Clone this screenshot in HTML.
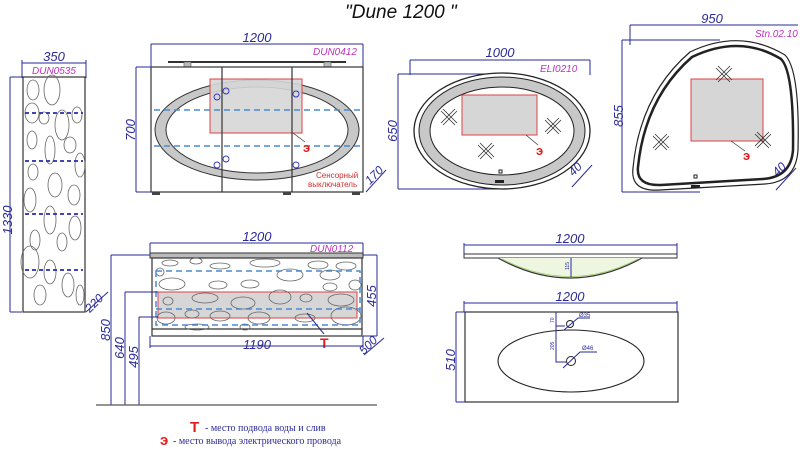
<!DOCTYPE html>
<html><head><meta charset="utf-8"><style>
html,body{margin:0;padding:0;background:#fff;width:800px;height:449px;overflow:hidden}
svg{display:block}
.d{stroke:#2a2a9a;stroke-width:1;fill:none}
.k{stroke:#333;stroke-width:1.2;fill:none}
.t{font-family:"Liberation Sans",sans-serif;font-style:italic;fill:#2a2a9a}
.m{font-family:"Liberation Sans",sans-serif;font-style:italic;fill:#c030c0;font-size:10px}
.o{stroke:#666;stroke-width:0.8;fill:none}
.bd{stroke:#4a8ad0;stroke-width:1.5;stroke-dasharray:6 4;fill:none}
.pd{stroke:#2a2ab0;stroke-width:1.8;stroke-dasharray:4 3;fill:none}
.x{stroke:#333;stroke-width:0.8}
.r{font-family:"Liberation Sans",sans-serif;font-weight:bold;fill:#e02020}
</style></head><body>
<svg width="800" height="449" viewBox="0 0 800 449" xmlns="http://www.w3.org/2000/svg">
<text x="345" y="18" font-family="Liberation Sans,sans-serif" font-style="italic" font-size="19" fill="#111">"Dune 1200 "</text>

<!-- Pencil case -->
<line class="d" x1="22" y1="63" x2="86" y2="63"/><line class="d" x1="22" y1="60" x2="22" y2="78"/><line class="d" x1="86" y1="60" x2="86" y2="78"/>
<text class="t" x="54" y="61" font-size="13" text-anchor="middle">350</text>
<text class="m" x="32" y="74">DUN0535</text>
<line class="d" x1="10" y1="77" x2="22" y2="77"/><line class="d" x1="10" y1="77" x2="10" y2="312"/><line class="d" x1="10" y1="312" x2="22" y2="312"/>
<text class="t" font-size="13" transform="translate(12,220) rotate(-90)" text-anchor="middle">1330</text>
<rect x="23" y="77" width="62" height="235" class="k"/>
<g class="o">
<ellipse cx="33" cy="90" rx="6" ry="10"/><ellipse cx="52" cy="90" rx="8" ry="15"/><ellipse cx="77" cy="115" rx="5" ry="8"/>
<ellipse cx="32" cy="113" rx="7" ry="10"/><ellipse cx="44" cy="118" rx="5" ry="6"/><ellipse cx="62" cy="125" rx="7" ry="15"/>
<ellipse cx="32" cy="140" rx="5" ry="9"/><ellipse cx="50" cy="150" rx="5" ry="14"/><ellipse cx="70" cy="145" rx="6" ry="8"/>
<ellipse cx="80" cy="165" rx="5" ry="12"/><ellipse cx="33" cy="172" rx="5" ry="8"/><ellipse cx="55" cy="185" rx="7" ry="12"/>
<ellipse cx="74" cy="195" rx="6" ry="10"/><ellipse cx="30" cy="200" rx="6" ry="12"/><ellipse cx="50" cy="220" rx="6" ry="14"/>
<ellipse cx="75" cy="228" rx="6" ry="12"/><ellipse cx="35" cy="240" rx="5" ry="10"/><ellipse cx="62" cy="242" rx="5" ry="9"/>
<ellipse cx="30" cy="262" rx="9" ry="16"/><ellipse cx="50" cy="272" rx="6" ry="12"/><ellipse cx="68" cy="285" rx="6" ry="12"/>
<ellipse cx="40" cy="295" rx="6" ry="10"/><ellipse cx="80" cy="295" rx="4" ry="10"/>
</g>
<line class="pd" x1="25" y1="113" x2="83" y2="113"/><line class="pd" x1="25" y1="161" x2="83" y2="161"/>
<line class="pd" x1="25" y1="214" x2="83" y2="214"/><line class="pd" x1="25" y1="270" x2="83" y2="270"/>
<text class="t" font-size="12" transform="translate(97,306) rotate(-45)" text-anchor="middle">220</text>
<line class="d" x1="86" y1="312" x2="108" y2="292"/>

<!-- Mirror cabinet -->
<line class="d" x1="151" y1="44" x2="363" y2="44"/><line class="d" x1="151" y1="44" x2="151" y2="67"/><line class="d" x1="363" y1="44" x2="363" y2="67"/>
<text class="t" x="257" y="42" font-size="13" text-anchor="middle">1200</text>
<text class="m" x="313" y="55">DUN0412</text>
<line x1="168" y1="62" x2="346" y2="62" stroke="#333" stroke-width="2"/>
<rect x="184" y="62" width="7" height="5" fill="#bbb" stroke="#555" stroke-width="0.6"/><rect x="324" y="62" width="7" height="5" fill="#bbb" stroke="#555" stroke-width="0.6"/>
<rect x="151" y="67" width="212" height="125" class="k"/>
<ellipse cx="257" cy="130" rx="102" ry="50" fill="#c8c8c8" stroke="#333" stroke-width="1"/>
<ellipse cx="257" cy="130" rx="91" ry="43" fill="#fff" stroke="#333" stroke-width="1"/>
<rect x="210" y="79" width="92" height="54" fill="#d6d6d6" fill-opacity="0.9" stroke="#e04040" stroke-width="1"/>
<line class="k" x1="222" y1="67" x2="222" y2="192"/><line class="k" x1="292" y1="67" x2="292" y2="192"/>
<line class="bd" x1="154" y1="110" x2="360" y2="110"/><line class="bd" x1="154" y1="146" x2="360" y2="146"/>
<g stroke="#3030c0" fill="none" stroke-width="0.9"><circle cx="217" cy="97" r="3"/><circle cx="226" cy="91" r="3"/><circle cx="296" cy="94" r="3"/>
<circle cx="217" cy="165" r="3"/><circle cx="226" cy="159" r="3"/><circle cx="296" cy="165" r="3"/></g>
<rect x="152" y="192" width="8" height="3" fill="#444"/><rect x="283" y="192" width="8" height="3" fill="#444"/><rect x="352" y="192" width="8" height="3" fill="#444"/>
<line x1="293" y1="133" x2="305" y2="142" stroke="#333" stroke-width="0.7"/>
<text class="r" x="303" y="152" font-size="13">э</text>
<text x="316" y="178" font-family="Liberation Sans,sans-serif" font-size="8" fill="#d03030">Сенсорный</text>
<text x="308" y="187" font-family="Liberation Sans,sans-serif" font-size="8" fill="#d03030">выключатель</text>
<line class="d" x1="136" y1="67" x2="151" y2="67"/><line class="d" x1="136" y1="67" x2="136" y2="192"/><line class="d" x1="136" y1="192" x2="151" y2="192"/>
<text class="t" font-size="13" transform="translate(135,130) rotate(-90)" text-anchor="middle">700</text>
<text class="t" font-size="12" transform="translate(377,178) rotate(-45)" text-anchor="middle">170</text>
<line class="d" x1="366" y1="192" x2="386" y2="170"/>

<!-- Ellipse mirror -->
<line class="d" x1="410" y1="60" x2="590" y2="60"/><line class="d" x1="410" y1="60" x2="410" y2="75"/><line class="d" x1="590" y1="60" x2="590" y2="75"/>
<text class="t" x="500" y="57" font-size="13" text-anchor="middle">1000</text>
<text class="m" x="540" y="72">ELI0210</text>
<line class="d" x1="398" y1="74" x2="500" y2="74"/><line class="d" x1="398" y1="74" x2="398" y2="189"/><line class="d" x1="398" y1="189" x2="500" y2="189"/>
<text class="t" font-size="13" transform="translate(397,131) rotate(-90)" text-anchor="middle">650</text>
<ellipse cx="502" cy="131" rx="88" ry="58" fill="#fff" stroke="#222" stroke-width="1.3"/>
<ellipse cx="502" cy="131" rx="83" ry="54" fill="#c8c8c8" stroke="#222" stroke-width="1"/>
<ellipse cx="502" cy="131" rx="72" ry="44" fill="#fff" stroke="#222" stroke-width="1"/>
<rect x="462" y="95" width="75" height="40" fill="#d6d6d6" stroke="#e04040" stroke-width="1"/>
<g class="x"><path d="M441 111 L455 125 M443 109 L457 123 M441 123 L455 109 M443 125 L457 111"/>
<path d="M478 145 L492 159 M480 143 L494 157 M478 157 L492 143 M480 159 L494 145"/>
<path d="M545 120 L559 134 M547 118 L561 132 M545 132 L559 118 M547 134 L561 120"/></g>
<line x1="526" y1="135" x2="538" y2="145" stroke="#333" stroke-width="0.7"/>
<text class="r" x="536" y="155" font-size="13">э</text>
<rect x="499" y="170" width="3" height="3" fill="none" stroke="#222"/><rect x="495" y="180" width="9" height="3" fill="#222"/>
<text class="t" font-size="12" transform="translate(578,172) rotate(-45)" text-anchor="middle">40</text>
<line class="d" x1="572" y1="187" x2="592" y2="165"/>

<!-- Triangle mirror -->
<line class="d" x1="630" y1="25" x2="798" y2="25"/><line class="d" x1="630" y1="25" x2="630" y2="45"/>
<text class="t" x="712" y="23" font-size="13" text-anchor="middle">950</text>
<text class="m" x="755" y="37">Stn.02.10</text>
<line class="d" x1="622" y1="40" x2="720" y2="40"/><line class="d" x1="622" y1="40" x2="622" y2="192"/><line class="d" x1="622" y1="192" x2="700" y2="192"/>
<text class="t" font-size="13" transform="translate(623,116) rotate(-90)" text-anchor="middle">855</text>
<path d="M690 52 Q740 28 785 55 Q800 70 798 150 Q796 182 765 184 L660 190 Q630 192 633 168 Q640 95 690 52 Z" fill="#fff" stroke="#222" stroke-width="1.2"/>
<path d="M692 57 Q740 34 781 59 Q794 72 793 150 Q791 177 763 179 L661 185 Q636 186 638 167 Q645 98 692 57 Z" fill="none" stroke="#222" stroke-width="2.5"/>
<rect x="691" y="79" width="72" height="62" fill="#d6d6d6" stroke="#e04040" stroke-width="1"/>
<g class="x"><path d="M716 68 L730 82 M718 66 L732 80 M716 80 L730 66 M718 82 L732 68"/>
<path d="M653 136 L667 150 M655 134 L669 148 M653 148 L667 134 M655 150 L669 136"/>
<path d="M755 134 L769 148 M757 132 L771 146 M755 146 L769 132 M757 148 L771 134"/></g>
<line x1="731" y1="141" x2="745" y2="151" stroke="#333" stroke-width="0.7"/>
<text class="r" x="743" y="160" font-size="13">э</text>
<rect x="694" y="175" width="3" height="3" fill="none" stroke="#222"/><rect x="691" y="185" width="9" height="3" fill="#222"/>
<text class="t" font-size="12" transform="translate(782,172) rotate(-45)" text-anchor="middle">40</text>
<line class="d" x1="776" y1="190" x2="796" y2="168"/>

<!-- Vanity -->
<line class="d" x1="150" y1="243" x2="363" y2="243"/><line class="d" x1="150" y1="243" x2="150" y2="257"/><line class="d" x1="363" y1="243" x2="363" y2="257"/>
<text class="t" x="257" y="241" font-size="13" text-anchor="middle">1200</text>
<text class="m" x="310" y="252">DUN0112</text>
<rect x="150" y="253" width="213" height="5" fill="#bbb" stroke="#333" stroke-width="1"/>
<rect x="152" y="258" width="210" height="78" class="k"/>
<line class="k" x1="152" y1="329" x2="362" y2="329"/>
<rect x="158" y="292" width="199" height="26" fill="#d6d6d6" stroke="#e04040" stroke-width="1"/>
<g class="o">
<ellipse cx="170" cy="263" rx="8" ry="3"/><ellipse cx="196" cy="261" rx="6" ry="3"/><ellipse cx="220" cy="266" rx="10" ry="3"/><ellipse cx="265" cy="263" rx="15" ry="4"/><ellipse cx="318" cy="265" rx="10" ry="4"/><ellipse cx="346" cy="266" rx="10" ry="4"/>
<ellipse cx="160" cy="272" rx="4" ry="4"/><ellipse cx="172" cy="284" rx="13" ry="6"/><ellipse cx="218" cy="285" rx="9" ry="4"/><ellipse cx="250" cy="284" rx="9" ry="4"/><ellipse cx="290" cy="275" rx="13" ry="6"/><ellipse cx="330" cy="275" rx="10" ry="5"/><ellipse cx="330" cy="287" rx="7" ry="4"/><ellipse cx="355" cy="285" rx="6" ry="5"/>
<ellipse cx="168" cy="301" rx="5" ry="4"/><ellipse cx="205" cy="298" rx="13" ry="5"/><ellipse cx="243" cy="303" rx="12" ry="6"/><ellipse cx="280" cy="297" rx="11" ry="7"/><ellipse cx="306" cy="298" rx="6" ry="4"/><ellipse cx="341" cy="300" rx="13" ry="6"/>
<ellipse cx="166" cy="318" rx="9" ry="6"/><ellipse cx="192" cy="314" rx="7" ry="4"/><ellipse cx="220" cy="316" rx="10" ry="5"/><ellipse cx="259" cy="318" rx="11" ry="6"/><ellipse cx="305" cy="318" rx="10" ry="4"/><ellipse cx="346" cy="316" rx="15" ry="9"/>
<ellipse cx="197" cy="327" rx="12" ry="3"/><ellipse cx="245" cy="327" rx="5" ry="3"/>
</g>
<rect x="156" y="271" width="204" height="54" class="bd" stroke-width="1"/>
<line class="bd" x1="156" y1="309" x2="360" y2="309" stroke-width="1"/>
<line class="d" x1="307" y1="313" x2="324" y2="334" stroke-width="0.8"/>
<text class="r" x="320" y="348" font-size="14">T</text>
<line class="d" x1="150" y1="336" x2="150" y2="348"/><line class="d" x1="363" y1="336" x2="363" y2="348"/><line class="d" x1="150" y1="346" x2="363" y2="346"/>
<text class="t" x="257" y="349" font-size="13" text-anchor="middle">1190</text>
<text class="t" font-size="12" transform="translate(371,348) rotate(-45)" text-anchor="middle">500</text>
<line class="d" x1="364" y1="355" x2="384" y2="338"/>
<line class="d" x1="363" y1="255" x2="377" y2="255"/><line class="d" x1="377" y1="255" x2="377" y2="336"/><line class="d" x1="363" y1="336" x2="377" y2="336"/>
<text class="t" font-size="13" transform="translate(376,296) rotate(-90)" text-anchor="middle">455</text>
<line class="d" x1="111" y1="255" x2="150" y2="255"/><line class="d" x1="111" y1="255" x2="111" y2="405"/>
<line class="d" x1="125" y1="292" x2="158" y2="292"/><line class="d" x1="125" y1="292" x2="125" y2="405"/>
<line class="d" x1="139" y1="317" x2="158" y2="317"/><line class="d" x1="139" y1="317" x2="139" y2="405"/>
<text class="t" font-size="13" transform="translate(110,330) rotate(-90)" text-anchor="middle">850</text>
<text class="t" font-size="13" transform="translate(124,348) rotate(-90)" text-anchor="middle">640</text>
<text class="t" font-size="13" transform="translate(138,357) rotate(-90)" text-anchor="middle">495</text>
<line x1="96" y1="405" x2="377" y2="405" stroke="#555" stroke-width="1.2"/>

<!-- Legend -->
<text class="r" x="190" y="432" font-size="15">T</text>
<text x="205" y="431" font-family="Liberation Serif,serif" font-size="10" fill="#2a2a9a">- место подвода воды и слив</text>
<text class="r" x="160" y="445" font-size="15">э</text>
<text x="173" y="444" font-family="Liberation Serif,serif" font-size="10" fill="#2a2a9a">- место вывода электрического провода</text>

<!-- Basin side -->
<line class="d" x1="464" y1="245" x2="677" y2="245"/><line class="d" x1="464" y1="243" x2="464" y2="255"/><line class="d" x1="677" y1="243" x2="677" y2="255"/>
<text class="t" x="570" y="243" font-size="13" text-anchor="middle">1200</text>
<rect x="464" y="254" width="213" height="4" fill="#fff" stroke="#333" stroke-width="1"/>
<path d="M498 258 Q570 298 642 258" fill="#eef5e0" stroke="#333" stroke-width="1.2"/>
<path d="M502 259 Q570 294 638 259" fill="none" stroke="#9c6" stroke-width="0.8"/>
<line class="d" x1="571" y1="258" x2="571" y2="277"/>
<text font-family="Liberation Sans,sans-serif" font-size="5" fill="#2a2a9a" transform="translate(569,270) rotate(-90)">115</text>

<!-- Basin top -->
<line class="d" x1="464" y1="303" x2="677" y2="303"/><line class="d" x1="464" y1="301" x2="464" y2="312"/><line class="d" x1="677" y1="301" x2="677" y2="312"/>
<text class="t" x="570" y="301" font-size="13" text-anchor="middle">1200</text>
<rect x="465" y="312" width="213" height="90" class="k"/>
<line class="d" x1="456" y1="312" x2="465" y2="312"/><line class="d" x1="456" y1="312" x2="456" y2="402"/><line class="d" x1="456" y1="402" x2="465" y2="402"/>
<text class="t" font-size="13" transform="translate(455,360) rotate(-90)" text-anchor="middle">510</text>
<ellipse cx="571" cy="361" rx="73" ry="31" fill="none" stroke="#222" stroke-width="1.1"/>
<circle cx="570" cy="324" r="3.5" fill="none" stroke="#222"/><circle cx="571" cy="361" r="4.5" fill="none" stroke="#222"/>
<path class="d" d="M556 312 L556 326 L565 326 M556 326 L556 362 L566 362" stroke-width="0.8"/>
<path class="d" d="M564 330 L578 318 L590 318 M563 368 L580 352 L597 352" stroke-width="0.8"/>
<text font-family="Liberation Sans,sans-serif" font-size="6" fill="#2a2a9a" x="579" y="317">Ø35</text>
<text font-family="Liberation Sans,sans-serif" font-size="6" fill="#2a2a9a" x="582" y="350">Ø46</text>
<text font-family="Liberation Sans,sans-serif" font-size="5" fill="#2a2a9a" transform="translate(554,323) rotate(-90)">70</text>
<text font-family="Liberation Sans,sans-serif" font-size="5" fill="#2a2a9a" transform="translate(554,350) rotate(-90)">205</text>
</svg>
</body></html>
